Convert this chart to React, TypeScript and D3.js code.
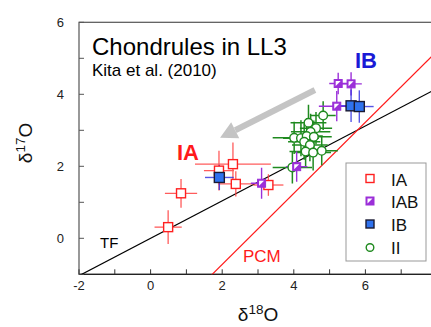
import React from 'react';
import * as d3 from 'd3';

// [δ18O, δ17O, ±x, ±y]
const IA = [
  [0.49, 0.31, 0.38, 0.47],
  [0.85, 1.25, 0.45, 0.4],
  [1.91, 1.88, 0.42, 0.55],
  [2.3, 2.06, 1.06, 0.6],
  [2.38, 1.51, 0.5, 0.35],
  [3.29, 1.48, 0.42, 0.3],
];
const IAB = [
  [3.1, 1.53, 0.3, 0.43],
  [4.08, 1.99, 0.3, 0.42],
  [5.24, 4.3, 0.25, 0.3],
  [5.6, 4.29, 0.3, 0.32],
  [5.2, 3.67, 0.5, 0.42],
];
const IB = [
  [1.92, 1.69, 0.4, 0.35],
  [5.6, 3.68, 0.35, 0.45],
  [5.83, 3.66, 0.4, 0.45],
];
const II = [
  [4.82, 3.41, 0.35, 0.4],
  [4.41, 3.21, 0.5, 0.5],
  [4.62, 3.06, 0.45, 0.45],
  [4.47, 2.96, 0.55, 0.5],
  [4.01, 2.79, 0.6, 0.45],
  [4.2, 2.78, 0.5, 0.5],
  [4.36, 2.84, 0.45, 0.5],
  [4.56, 2.82, 0.5, 0.45],
  [4.29, 2.68, 0.45, 0.5],
  [4.45, 2.59, 0.5, 0.45],
  [4.33, 2.41, 0.45, 0.45],
  [4.54, 2.38, 0.5, 0.5],
  [4.78, 2.43, 0.45, 0.4],
  [3.96, 1.97, 0.55, 0.45],
];

// reference lines: slope, intercept
const TF = [0.52, 0];
const PCM = [0.987, -2.7];

// gray arrow (IB -> IA direction)
const arrowFrom = [4.59, 4.12];
const arrowTo = [1.94, 2.79];

const xTicks = [-2, 0, 2, 4, 6];
const yTicks = [0, 2, 4, 6];

const W = 431;
const H = 327;
const font = 'Liberation Sans, Arial, sans-serif';

const x = d3.scaleLinear().domain([-2, 8]).range([79, 437]);
const y = d3.scaleLinear().domain([-1, 6]).range([274.3, 22.3]);

const ErrBars = ({ pts, color, width = 1.3, opacity = 1 }) => (
  <g stroke={color} strokeWidth={width} opacity={opacity}>
    {pts.map((p, i) => (
      <g key={i}>
        <line x1={x(p[0] - p[2])} x2={x(p[0] + p[2])} y1={y(p[1])} y2={y(p[1])} />
        <line x1={x(p[0])} x2={x(p[0])} y1={y(p[1] - p[3])} y2={y(p[1] + p[3])} />
      </g>
    ))}
  </g>
);

const IAMark = ({ cx, cy, s = 9 }) => (
  <rect x={cx - s / 2} y={cy - s / 2} width={s} height={s} fill="#fff" stroke="#ff2020" strokeWidth={1.4} />
);
const IBMark = ({ cx, cy, s = 10 }) => (
  <rect x={cx - s / 2} y={cy - s / 2} width={s} height={s} fill="#2f72ee" stroke="#1a1a33" strokeWidth={1.4} />
);
const IABMark = ({ cx, cy, s = 8 }) => (
  <g>
    <rect x={cx - s / 2} y={cy - s / 2} width={s} height={s} fill="#9b2fd8" stroke="#9b2fd8" strokeWidth={1} />
    <path
      d={`M${cx - s / 2 + 1.5},${cy - s / 2 + 1.5} H${cx + s / 2 - 1.5} L${cx - s / 2 + 1.5},${cy + s / 2 - 1.5} Z`}
      fill="#fff"
    />
  </g>
);
const IIMark = ({ cx, cy, r = 4.3 }) => (
  <circle cx={cx} cy={cy} r={r} fill="#fff" stroke="#1f8a1f" strokeWidth={1.4} />
);

const refLine = ([m, b]) => {
  const xs = [-2, 8];
  return d3.line()(xs.map((v) => [x(v), y(m * v + b)]));
};

export default function App() {
  const [x0, x1] = x.range();
  const [yb, yt] = y.range();
  const ax = x(arrowFrom[0]), ay = y(arrowFrom[1]);
  const bx = x(arrowTo[0]), by = y(arrowTo[1]);
  const ang = Math.atan2(by - ay, bx - ax);
  const headLen = 17, headW = 9;
  const hx = bx - headLen * Math.cos(ang), hy = by - headLen * Math.sin(ang);
  const px = -Math.sin(ang) * headW, py = Math.cos(ang) * headW;

  return (
    <svg width={W} height={H} style={{ position: 'absolute', left: 0, top: 0, background: '#fff' }} fontFamily={font}>
      <defs>
        <clipPath id="plot">
          <rect x={x0} y={yt} width={x1 - x0} height={yb - yt} />
        </clipPath>
      </defs>

      {/* frame */}
      <rect x={x0} y={yt} width={x1 - x0} height={yb - yt} fill="none" stroke="#555" strokeWidth={1.2} />
      <line x1={x0} x2={x1} y1={yb} y2={yb} stroke="#222" strokeWidth={1.3} />

      {/* ticks inward */}
      {d3.range(-2, 9).map((t) => (
        <line key={'xt' + t} x1={x(t)} x2={x(t)} y1={yb} y2={yb - 5} stroke="#333" strokeWidth={1} />
      ))}
      {d3.range(-1, 7).map((t) => (
        <line key={'yt' + t} x1={x0} x2={x0 + 5} y1={y(t)} y2={y(t)} stroke="#555" strokeWidth={1} />
      ))}
      {xTicks.map((t) => (
        <text key={'xl' + t} x={x(t)} y={290} textAnchor="middle" fontSize={13} fill="#222">
          {t}
        </text>
      ))}
      {yTicks.map((t) => (
        <text key={'yl' + t} x={64} y={y(t) + 4.5} textAnchor="end" fontSize={13} fill="#222">
          {t}
        </text>
      ))}

      {/* axis titles */}
      <text x={258} y={321} textAnchor="middle" fontSize={19} fill="#111">
        δ<tspan fontSize={13.5} dy={-7}>18</tspan>
        <tspan dy={7}>O</tspan>
      </text>
      <text transform="translate(32,143) rotate(-90)" textAnchor="middle" fontSize={19} fill="#111">
        δ<tspan fontSize={13.5} dy={-7}>17</tspan>
        <tspan dy={7}>O</tspan>
      </text>

      <g clipPath="url(#plot)">
        <path d={refLine(TF)} stroke="#000" strokeWidth={1.2} fill="none" />
        <path d={refLine(PCM)} stroke="#ff1a1a" strokeWidth={1.2} fill="none" />

        {/* arrow */}
        <line x1={ax} y1={ay} x2={hx} y2={hy} stroke="#c4c4c4" strokeWidth={6} />
        <path d={`M${bx},${by} L${hx + px},${hy + py} L${hx - px},${hy - py} Z`} fill="#c4c4c4" />

        <ErrBars pts={II} color="#1f8a1f" width={1.5} />
        <ErrBars pts={IA} color="#ff4040" width={1.3} opacity={0.85} />
        <ErrBars pts={IAB} color="#9b30d9" width={1.4} />
        <ErrBars pts={IB} color="#2c2ce0" width={1.4} opacity={0.8} />

        {II.map((p, i) => <IIMark key={'ii' + i} cx={x(p[0])} cy={y(p[1])} />)}
        {IA.map((p, i) => <IAMark key={'ia' + i} cx={x(p[0])} cy={y(p[1])} />)}
        {IAB.map((p, i) => <IABMark key={'iab' + i} cx={x(p[0])} cy={y(p[1])} />)}
        {IB.map((p, i) => <IBMark key={'ib' + i} cx={x(p[0])} cy={y(p[1])} />)}
      </g>

      {/* annotations */}
      <text x={92} y={55} fontSize={24} fill="#000">Chondrules in LL3</text>
      <text x={92} y={76} fontSize={17} fill="#000">Kita et al. (2010)</text>
      <text x={355} y={68} fontSize={22} fontWeight="bold" fill="#1a1ad6">IB</text>
      <text x={177} y={160} fontSize={22} fontWeight="bold" fill="#ff1a1a">IA</text>
      <text x={100} y={248} fontSize={15} fill="#000">TF</text>
      <text x={243} y={262} fontSize={17} fill="#ff1a1a">PCM</text>

      {/* legend */}
      <rect x={346} y={163} width={80} height={98} fill="#fff" stroke="#999" strokeWidth={1} />
      <IAMark cx={370} cy={178.5} s={8} />
      <IABMark cx={370} cy={201} s={8} />
      <IBMark cx={370} cy={224} s={8} />
      <IIMark cx={370} cy={247.5} r={3.8} />
      {['IA', 'IAB', 'IB', 'II'].map((t, i) => (
        <text key={t} x={391} y={[186, 208, 231, 253.5][i]} fontSize={17} fill="#111">
          {t}
        </text>
      ))}
    </svg>
  );
}
